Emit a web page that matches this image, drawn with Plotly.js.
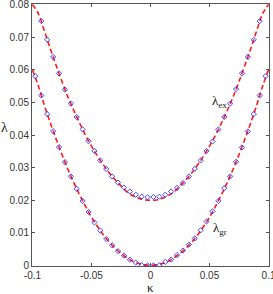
<!DOCTYPE html>
<html>
<head>
<meta charset="utf-8">
<script src="https://cdn.plot.ly/plotly-3.0.1.min.js"></script>
<style>html,body{margin:0;padding:0;background:#fff;}#plot{width:273px;height:294px;}</style>
</head>
<body>
<div id="plot"></div>
<script>
// Dashed-line curves
const kappaLine = [-0.100,-0.095,-0.090,-0.085,-0.080,-0.075,-0.070,-0.065,-0.060,-0.055,-0.050,-0.045,-0.040,-0.035,-0.030,-0.025,-0.020,-0.015,-0.010,-0.005,0.000,0.005,0.010,0.015,0.020,0.025,0.030,0.035,0.040,0.045,0.050,0.055,0.060,0.065,0.070,0.075,0.080,0.085,0.090,0.095,0.100];
const exLine = [0.0800,0.0772,0.0720,0.0665,0.0614,0.0564,0.0517,0.0475,0.0436,0.0399,0.0366,0.0336,0.0309,0.0284,0.0263,0.0244,0.0226,0.0214,0.0206,0.0201,0.0200,0.0201,0.0206,0.0214,0.0226,0.0244,0.0263,0.0284,0.0309,0.0336,0.0366,0.0399,0.0436,0.0475,0.0517,0.0564,0.0614,0.0665,0.0720,0.0772,0.0800];
const grLine = [0.0600,0.0550,0.0492,0.0438,0.0388,0.0340,0.0295,0.0254,0.0216,0.0181,0.0148,0.0120,0.0094,0.0072,0.0053,0.0037,0.0024,0.0013,0.0006,0.0002,0.0000,0.0002,0.0006,0.0013,0.0024,0.0037,0.0053,0.0072,0.0094,0.0120,0.0148,0.0181,0.0216,0.0254,0.0295,0.0340,0.0388,0.0438,0.0492,0.0550,0.0600];

// Marker data
const kappaEx = [-0.0925,-0.0875,-0.0825,-0.0775,-0.0725,-0.0675,-0.0625,-0.0575,-0.0525,-0.0475,-0.0425,-0.0375,-0.0325,-0.0275,-0.0225,-0.0175,-0.0125,-0.0075,-0.0025,0.0025,0.0075,0.0125,0.0175,0.0225,0.0275,0.0325,0.0375,0.0425,0.0475,0.0525,0.0575,0.0625,0.0675,0.0725,0.0775,0.0825,0.0875,0.0925];
const exPts = [0.0749,0.0692,0.0639,0.0589,0.0539,0.0496,0.0455,0.0417,0.0381,0.0351,0.0322,0.0296,0.0273,0.0254,0.0239,0.0227,0.0217,0.0211,0.0209,0.0210,0.0211,0.0217,0.0227,0.0238,0.0253,0.0273,0.0296,0.0322,0.0351,0.0380,0.0417,0.0455,0.0496,0.0541,0.0589,0.0639,0.0692,0.0749];
const kappaGr = [-0.0975,-0.0925,-0.0875,-0.0825,-0.0775,-0.0725,-0.0675,-0.0625,-0.0575,-0.0525,-0.0475,-0.0425,-0.0375,-0.0325,-0.0275,-0.0225,-0.0175,-0.0125,-0.0075,-0.0025,0.0025,0.0075,0.0125,0.0175,0.0225,0.0275,0.0325,0.0375,0.0425,0.0475,0.0525,0.0575,0.0625,0.0675,0.0725,0.0775,0.0825,0.0875,0.0925,0.0975];
const grPts = [0.0580,0.0521,0.0464,0.0412,0.0363,0.0317,0.0273,0.0235,0.0198,0.0164,0.0132,0.0107,0.0081,0.0062,0.0044,0.0031,0.0018,0.0009,0.0001,0.0000,0.0000,0.0001,0.0011,0.0018,0.0032,0.0046,0.0064,0.0083,0.0108,0.0135,0.0166,0.0198,0.0237,0.0273,0.0318,0.0362,0.0411,0.0464,0.0521,0.0580];

const xTicks = [-0.1,-0.05,0,0.05,0.1];
const xTickText = ['-0.1','-0.05','0','0.05','0.1'];
const yTicks = [0,0.01,0.02,0.03,0.04,0.05,0.06,0.07,0.08];
const yTickText = ['0','0.01','0.02','0.03','0.04','0.05','0.06','0.07','0.08'];

const markerStyle = {symbol:'diamond-open', size:4, color:'rgba(40,40,255,0.85)', line:{width:1}};
const lineStyle = {color:'#ff1a1a', width:1.6, dash:'5px,3px', shape:'spline'};

const traces = [
  {x:kappaLine, y:exLine, mode:'lines', line:lineStyle, hoverinfo:'skip'},
  {x:kappaLine, y:grLine, mode:'lines', line:lineStyle, hoverinfo:'skip'},
  {x:kappaEx, y:exPts, mode:'markers', marker:markerStyle},
  {x:kappaGr, y:grPts, mode:'markers', marker:markerStyle}
];

const axisCommon = {
  showgrid:false, zeroline:false, showline:true, linecolor:'#555', linewidth:1,
  mirror:'allticks', ticks:'inside', ticklen:3, tickcolor:'#555',
  ticklabeloverflow:'allow',
  tickfont:{family:'Liberation Sans, Arial, sans-serif', size:10, color:'#333'}
};

const layout = {
  width:273, height:294,
  margin:{l:32, r:4, t:4, b:28},
  paper_bgcolor:'#fff', plot_bgcolor:'#fff',
  showlegend:false,
  xaxis: Object.assign({}, axisCommon, {range:[-0.1004,0.1004], tickvals:xTicks, ticktext:xTickText}),
  yaxis: Object.assign({}, axisCommon, {range:[-0.00015,0.08015], tickvals:yTicks, ticktext:yTickText}),
  annotations:[
    {xref:'paper', yref:'paper', x:-0.118, y:0.53, text:'λ', showarrow:false,
     font:{family:'Liberation Serif, Times New Roman, serif', size:14, color:'#222'}, xanchor:'center', yanchor:'middle'},
    {xref:'paper', yref:'paper', x:0.5, y:-0.083, text:'κ', showarrow:false,
     font:{family:'Liberation Serif, Times New Roman, serif', size:13, color:'#222'}, xanchor:'center', yanchor:'middle'},
    {x:0.0585, y:0.0503, text:'λ<sub>ex</sub>', showarrow:false,
     font:{family:'Liberation Serif, Times New Roman, serif', size:13, color:'#222'}},
    {x:0.0585, y:0.0112, text:'λ<sub>gr</sub>', showarrow:false,
     font:{family:'Liberation Serif, Times New Roman, serif', size:13, color:'#222'}}
  ]
};

Plotly.newPlot('plot', traces, layout, {staticPlot:true, displayModeBar:false});
</script>
</body>
</html>
